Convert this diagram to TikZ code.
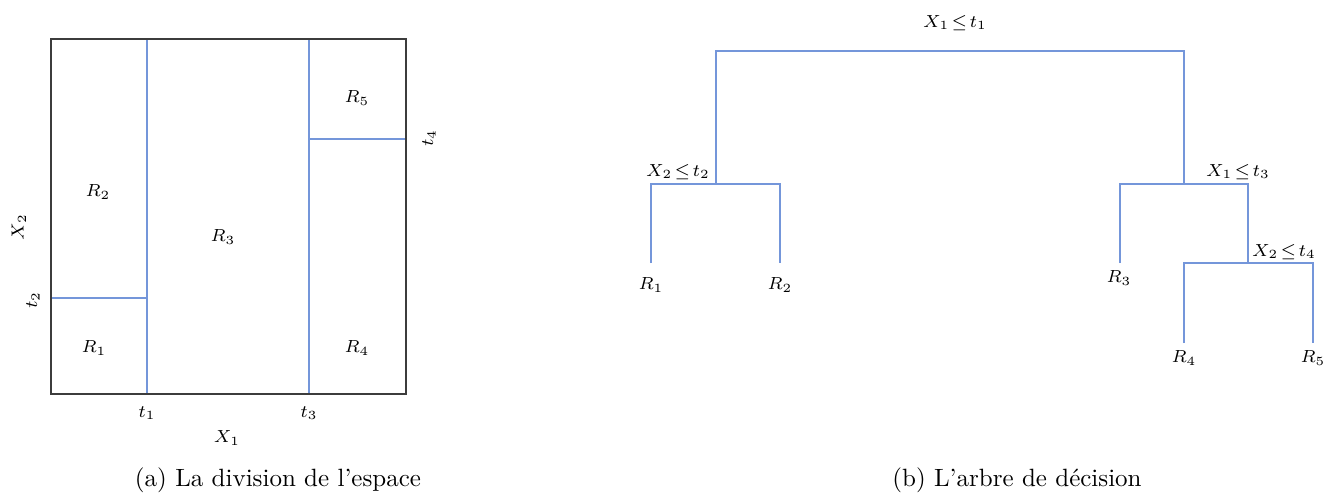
\documentclass[tikz,border=0pt]{standalone}
\usepackage{amsmath}
\usepackage{amssymb}
\usepackage{xcolor}
\usepackage{tikz}
\definecolor{splitblue}{RGB}{116,150,218}
\definecolor{framegray}{RGB}{60,60,60}

\begin{document}
\begin{tikzpicture}[
  x=0.4pt, y=-0.4pt,
  cut/.style={draw=splitblue, line width=0.8pt},
  frame/.style={draw=framegray, line width=0.8pt},
  lab/.style={font={\scriptsize\thickmuskip=2mu}, inner sep=1pt},
  vlab/.style={lab, rotate=90},
  caption/.style={font=\normalsize, inner sep=0pt}
]
\useasboundingbox (0,0) rectangle (1329,494);

% (a) partition of the plane
\coordinate (sw) at (51,394);
\coordinate (ne) at (406,39);
\coordinate (t1b) at (147,394);
\coordinate (t1t) at (147,39);
\coordinate (t2l) at (51,298);
\coordinate (t2r) at (147,298);
\coordinate (t3b) at (309,394);
\coordinate (t3t) at (309,39);
\coordinate (t4l) at (309,139);
\coordinate (t4r) at (406,139);

\draw[cut] (t1b) -- (t1t);
\draw[cut] (t2l) -- (t2r);
\draw[cut] (t3b) -- (t3t);
\draw[cut] (t4l) -- (t4r);
\draw[frame] (sw) rectangle (ne);

\node[lab] (r1) at (94,348) {$R_1$};
\node[lab] (r2) at (98,192) {$R_2$};
\node[lab] (r3) at (223,237) {$R_3$};
\node[lab] (r4) at (357,348) {$R_4$};
\node[lab] (r5) at (357,98) {$R_5$};

\node[lab] (tick1) at (147,413) {$t_1$};
\node[lab] (tick3) at (309,413) {$t_3$};
\node[vlab] (tick2) at (33,300) {$t_2$};
\node[vlab] (tick4) at (429,138) {$t_4$};
\node[lab] (axx) at (227,438) {$X_1$};
\node[vlab] (axy) at (19,227) {$X_2$};

\node[caption] (capa) at (278,480) {(a) La division de l'espace};

% (b) decision tree
\coordinate (n1l) at (716,51);
\coordinate (n1r) at (1184,51);
\coordinate (n2) at (716,184);
\coordinate (n2l) at (651,184);
\coordinate (n2r) at (780,184);
\coordinate (n3) at (1184,184);
\coordinate (n3l) at (1120,184);
\coordinate (n3r) at (1248,184);
\coordinate (n4) at (1248,263);
\coordinate (n4l) at (1184,263);
\coordinate (n4r) at (1313,263);
\coordinate (e1) at (651,263);
\coordinate (e2) at (780,263);
\coordinate (e3) at (1120,263);
\coordinate (e4) at (1184,343);
\coordinate (e5) at (1313,343);

\draw[cut] (n2) -- (n1l) -- (n1r) -- (n3);
\draw[cut] (e1) -- (n2l) -- (n2r) -- (e2);
\draw[cut] (e3) -- (n3l) -- (n3r) -- (n4);
\draw[cut] (e4) -- (n4l) -- (n4r) -- (e5);

\node[lab] (q1) at (955,23) {$X_1 \leq t_1$};
\node[lab] (q2) at (678,172) {$X_2 \leq t_2$};
\node[lab] (q3) at (1238,172) {$X_1 \leq t_3$};
\node[lab] (q4) at (1284,252) {$X_2 \leq t_4$};

\node[lab] (leaf1) at (651,285) {$R_1$};
\node[lab] (leaf2) at (780,285) {$R_2$};
\node[lab] (leaf3) at (1119,278) {$R_3$};
\node[lab] (leaf4) at (1184,358) {$R_4$};
\node[lab] (leaf5) at (1313,358) {$R_5$};

\node[caption] (capb) at (1017,480) {(b) L'arbre de d\'ecision};

\end{tikzpicture}
\end{document}
